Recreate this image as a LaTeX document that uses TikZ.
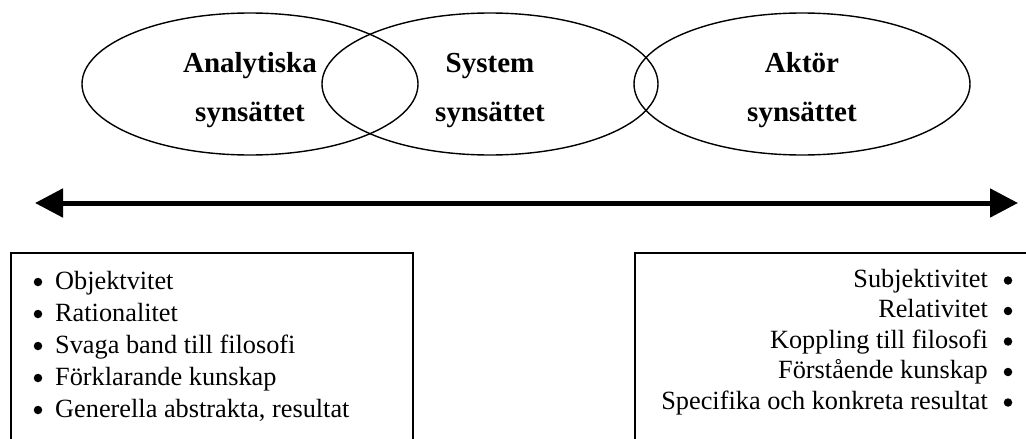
\documentclass[tikz,border=0pt]{standalone}
\usepackage{fontspec}
\setmainfont{Liberation Serif}
\usetikzlibrary{shapes.geometric,arrows.meta}
\begin{document}
\begin{tikzpicture}[x=1pt,y=-1pt,
  view/.style={draw,ellipse,line width=1.4pt,minimum width=336pt,minimum height=142pt,inner sep=0pt},
  title/.style={font=\fontsize{29}{49}\selectfont\bfseries,align=center,inner sep=0pt},
  listbox/.style={draw,line width=1.5pt,anchor=north west,inner sep=0pt},
  item/.style={font=\fontsize{26.3}{32}\selectfont,inner sep=0pt},
  bul/.style={circle,fill,inner sep=0pt,minimum size=8.5pt},
  bigtip/.tip={Triangle[length=28pt,width=28pt]}
]
\useasboundingbox (0,0) rectangle (1026,439);
\clip (0,0) rectangle (1026,439);

% ellipses
\node[view] (e1) at (250,84) {};
\node[view] (e2) at (490,84) {};
\node[view] (e3) at (802,84) {};
\node[title] (t1) at (250,86.7) {\strut Analytiska\\\strut synsättet};
\node[title] (t2) at (490,86.7) {\strut System\\\strut synsättet};
\node[title] (t3) at (802,86.7) {\strut Aktör\\\strut synsättet};

% double arrow
\coordinate (al) at (35,203);
\coordinate (ar) at (1018,203);
\draw[line width=5pt,bigtip-bigtip] (al) -- (ar);

% boxes
\node[listbox,minimum width=402pt,minimum height=230pt] (lbox) at (10,252) {};
\node[listbox,minimum width=420pt,minimum height=230pt] (rbox) at (634,252) {};

% left list
\foreach \t [count=\i] in {Objektvitet,Rationalitet,Svaga band till filosofi,Förklarande kunskap,{Generella abstrakta, resultat}} {
  \node[bul] (lb\i) at (38,{289+32*(\i-1)-7}) {};
  \node[item,anchor=base west] (li\i) at (55,{289+32*(\i-1)}) {\t};
}
% right list
\foreach \t [count=\i] in {Subjektivitet,Relativitet,Koppling till filosofi,Förstående kunskap,Specifika och konkreta resultat} {
  \node[bul] (rb\i) at (1008,{287+30.5*(\i-1)-6.5}) {};
  \node[item,anchor=base east] (ri\i) at (988,{287+30.5*(\i-1)}) {\t};
}
\end{tikzpicture}
\end{document}
